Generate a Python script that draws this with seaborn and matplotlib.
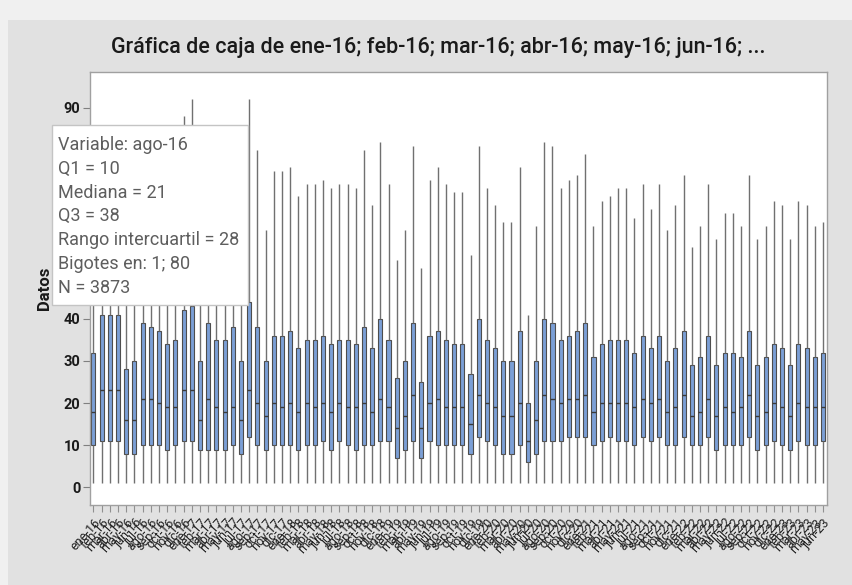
import numpy as np
import pandas as pd
import matplotlib
matplotlib.use("Agg")
import matplotlib.pyplot as plt
import seaborn as sns
from matplotlib.patches import Rectangle

# Monthly periods ene-16 ... jun-23
month_abbr = ["ene", "feb", "mar", "abr", "may", "jun",
              "jul", "ago", "sep", "oct", "nov", "dic"]
periods = [f"{m}-{y}" for y in range(16, 24) for m in month_abbr][:90]

# Box summaries per period
whisker_low = [1] * 90
q1 = [10, 11, 11, 11, 8, 8, 10, 10, 10, 9,
      10, 11, 11, 9, 9, 9, 9, 10, 8, 12,
      10, 9, 10, 10, 10, 9, 10, 10, 11, 9,
      11, 10, 9, 10, 10, 11, 11, 7, 9, 11,
      7, 11, 10, 10, 10, 10, 8, 12, 11, 10,
      8, 8, 10, 6, 8, 11, 11, 11, 12, 12,
      12, 10, 11, 12, 11, 11, 10, 12, 11, 12,
      10, 10, 12, 10, 10, 12, 9, 10, 10, 10,
      12, 9, 10, 11, 10, 9, 11, 10, 10, 11]
median = [18, 23, 23, 23, 16, 16, 21, 21, 20, 19,
          19, 23, 23, 16, 21, 19, 18, 19, 16, 23,
          20, 17, 20, 19, 20, 18, 20, 19, 20, 18,
          20, 19, 19, 20, 18, 21, 19, 14, 17, 22,
          14, 20, 21, 19, 19, 19, 15, 22, 20, 19,
          17, 17, 20, 11, 16, 22, 21, 20, 21, 21,
          22, 18, 20, 20, 20, 20, 19, 21, 20, 21,
          18, 19, 22, 17, 18, 21, 17, 19, 18, 19,
          22, 17, 18, 20, 19, 17, 20, 19, 19, 19]
q3 = [32, 41, 41, 41, 28, 30, 39, 38, 37, 34,
      35, 42, 43, 30, 39, 35, 35, 38, 30, 44,
      38, 30, 36, 36, 37, 33, 35, 35, 36, 34,
      35, 35, 34, 38, 33, 40, 35, 26, 30, 39,
      25, 36, 37, 35, 34, 34, 27, 40, 35, 33,
      30, 30, 37, 20, 30, 40, 39, 35, 36, 37,
      39, 31, 34, 35, 35, 35, 32, 36, 33, 36,
      30, 33, 37, 29, 31, 36, 29, 32, 32, 31,
      37, 29, 31, 34, 33, 29, 34, 33, 31, 32]
whisker_high = [65, 85, 85, 85, 58, 63, 82, 80, 77, 71,
                72, 88, 92, 61, 84, 74, 74, 80, 63, 92,
                80, 61, 75, 75, 76, 69, 72, 72, 73, 71,
                72, 72, 71, 80, 67, 82, 72, 54, 61, 81,
                52, 73, 76, 72, 70, 70, 55, 81, 71, 67,
                63, 63, 76, 41, 62, 82, 81, 71, 73, 74,
                79, 62, 68, 69, 71, 71, 64, 72, 66, 72,
                61, 67, 74, 57, 62, 72, 59, 65, 65, 62,
                74, 59, 62, 68, 67, 59, 68, 67, 62, 63]

# y tick labels; 50-80 sit under the hover box
y_ticks = [0, 10, 20, 30, 40, 50, 60, 70, 80, 90]
y_tick_labels = ["0", "10", "20", "30", "40", "", "", "", "", "90"]

# Five points per period: their quartiles and extremes give each box
rows = []
for p, lo, a, m, b, hi in zip(periods, whisker_low, q1, median, q3, whisker_high):
    for v in (lo, a, m, b, hi):
        rows.append({"Periodo": p, "Datos": v})
df = pd.DataFrame(rows)

sns.set_theme(style="white")
plt.rcParams["font.family"] = ["Roboto", "DejaVu Sans"]

W, H = 852, 585
fig = plt.figure(figsize=(W / 100, H / 100), dpi=100, facecolor="#e1e1e1")
# light strips along the top and left border
fig.add_artist(Rectangle((0, 1 - 20 / H), 1, 20 / H, transform=fig.transFigure,
                         facecolor="#f0f0f0", edgecolor="none", zorder=-10))
fig.add_artist(Rectangle((0, 0), 8 / W, 1, transform=fig.transFigure,
                         facecolor="#f0f0f0", edgecolor="none", zorder=-10))

ax = fig.add_axes([90 / W, 1 - 505 / H, (827 - 90) / W, (505 - 72) / H])
ax.set_facecolor("white")
ax.set_zorder(1)

sns.boxplot(data=df, x="Periodo", y="Datos", order=periods, whis=(0, 100),
            width=0.5, showcaps=False, color="#7b9fd6", saturation=1,
            linecolor="#4d4d4d", linewidth=0.8,
            whiskerprops=dict(color="#707070", linewidth=1.0),
            medianprops=dict(color="#3a3a3a", linewidth=1.0),
            ax=ax)

ax.set_xlim(-0.42, 89.49)
ax.set_ylim(-4.15, 98.5)
ax.set_yticks(y_ticks)
ax.set_yticklabels(y_tick_labels)
for s in ax.spines.values():
    s.set_visible(True)
    s.set_color("#a0a0a0")
    s.set_linewidth(1.0)

ax.tick_params(axis="y", direction="out", length=5, width=0.8, color="#808080",
               labelsize=10.5, labelcolor="#1a1a1a", pad=2, left=True)
for t in ax.get_yticklabels():
    t.set_fontweight("bold")
ax.tick_params(axis="x", direction="out", length=5, width=0.8, color="#909090",
               labelsize=9, labelcolor="#222222", pad=3, bottom=True)
ax.set_xticks(range(len(periods)))
ax.set_xticklabels(periods, rotation=48, ha="right", rotation_mode="anchor")

ax.set_xlabel("")
ax.set_ylabel("Datos", fontsize=12, fontweight="bold", color="#1a1a1a")
ax.yaxis.set_label_coords(-0.052, 0.5)

fig.text(438 / W, 1 - 47 / H,
         "Gráfica de caja de ene-16; feb-16; mar-16; abr-16; may-16; jun-16; ...",
         ha="center", va="center", fontsize=15.5, fontweight="medium",
         color="#1a1a1a")

# Hover box for ago-16
tip = Rectangle((52 / W, 1 - 305 / H), (248 - 52) / W, (305 - 125) / H,
                transform=fig.transFigure, facecolor="white",
                edgecolor="#c4c4c4", linewidth=1.0, zorder=10)
fig.add_artist(tip)
tip_lines = ["Variable: ago-16", "Q1 = 10", "Mediana = 21", "Q3 = 38",
             "Rango intercuartil = 28", "Bigotes en: 1; 80", "N = 3873"]
for i, line in enumerate(tip_lines):
    fig.text(58 / W, 1 - (145 + 23.8 * i) / H, line, ha="left", va="center",
             fontsize=13, color="#5e5e5e", zorder=11)

fig.savefig("out.png", dpi=100, facecolor=fig.get_facecolor())
